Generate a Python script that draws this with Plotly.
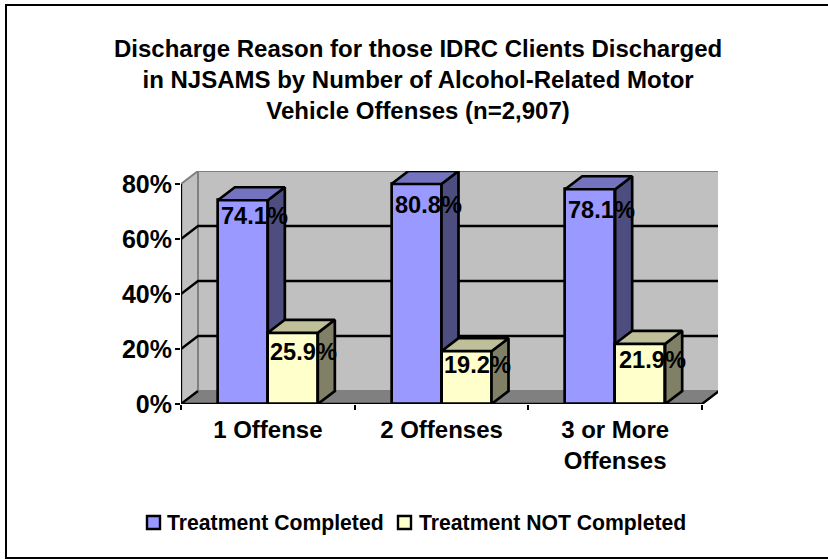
import plotly.graph_objects as go

categories = ["1 Offense", "2 Offenses", "3 or More<br>Offenses"]
completed = [74.1, 80.8, 78.1]
not_completed = [25.9, 19.2, 21.9]
series_names = ["Treatment Completed", "Treatment NOT Completed"]
y_ticks = [0, 20, 40, 60, 80]
title = ("Discharge Reason for those IDRC Clients Discharged<br>"
         "in NJSAMS by Number of Alcohol-Related Motor<br>"
         "Vehicle Offenses (n=2,907)")

W, H = 828, 559
L, R, T, B = 181, 718, 171, 404
CAT_PX = (702 - 181) / 3
PCT_PX = 220 / 80
DX = 17 / CAT_PX
DY = 13 / PCT_PX
BAR_W = 50 / CAT_PX
FONT = "Liberation Sans"
n = len(categories)
ymax = y_ticks[-1]


def px(x):
    return (x - L) / (R - L)


def py(y):
    return (B - y) / (B - T)


fig = go.Figure()


def poly(xs, ys, fill, line="black", width=2.7, z=0):
    fig.add_trace(go.Scatter(x=xs, y=ys, mode="lines", fill="toself", fillcolor=fill,
                             line=dict(color=line, width=width), hoverinfo="skip",
                             showlegend=False, zorder=z))


def seg(xs, ys, color="black", width=2.3, z=0):
    fig.add_trace(go.Scatter(x=xs, y=ys, mode="lines", line=dict(color=color, width=width),
                             hoverinfo="skip", showlegend=False, zorder=z))


# walls and floor
poly([DX, n + DX, n + DX, DX, DX], [DY, DY, ymax + DY, ymax + DY, DY], "#C0C0C0", "#808080", 2)
poly([0, DX, DX, 0, 0], [0, DY, ymax + DY, ymax, 0], "#C0C0C0", "#808080", 2)
poly([0, DX, n + DX, n, 0], [0, DY, DY, 0, 0], "#808080", "#808080", 2)
for t in y_ticks[1:-1]:
    seg([0, DX, n + DX], [t, t + DY, t + DY])
seg([0, DX], [0, DY])
seg([n, n + DX], [0, DY])
seg([0, n], [0, 0])
seg([0, 0], [0, ymax])

# bars (the value axis stops at 80%, so a taller bar is cut off there)
for s, (vals, front, side, top, off) in enumerate([
    (completed, "#9999FF", "#4D4D80", "#7373BF", -BAR_W / 2),
    (not_completed, "#FFFFCC", "#808066", "#BFBF99", BAR_W / 2),
]):
    base_z = 1 + 2 * s
    xs = [i + 0.5 + off for i in range(n)]
    shown = [min(v, ymax) for v in vals]
    fig.add_trace(go.Bar(x=xs, y=shown, width=BAR_W, name=series_names[s], showlegend=False,
                         customdata=vals, hovertemplate="%{customdata}%",
                         marker=dict(color=front, line=dict(color="black", width=2.7)),
                         zorder=base_z))
    for x, v in zip(xs, shown):
        x0, x1 = x - BAR_W / 2, x + BAR_W / 2
        poly([x1, x1 + DX, x1 + DX, x1, x1], [0, DY, v + DY, v, 0], side, z=base_z + 1)
        poly([x0, x0 + DX, x1 + DX, x1, x0], [v, v + DY, v + DY, v, v], top, z=base_z + 1)

fig.update_layout(
    width=W, height=H, autosize=False,
    margin=dict(l=L, r=W - R, t=T, b=H - B, pad=0),
    paper_bgcolor="white", plot_bgcolor="white", showlegend=False,
    font=dict(family=FONT, color="black"),
    bargap=0,
    xaxis=dict(range=[0, (R - L) / CAT_PX], tickvals=[i + 0.5 for i in range(n)],
               ticktext=[f"<b>{c.replace('<br>', '</b><br><b>')}</b>" for c in categories],
               ticks="", showgrid=False, zeroline=False, showline=False,
               tickfont=dict(size=24, family=FONT), automargin=False, ticklabelstandoff=9,
               minor=dict(tickvals=list(range(n + 1)), ticks="outside", ticklen=5, tickwidth=2,
                          tickcolor="black", showgrid=False)),
    yaxis=dict(range=[0, (B - T) / PCT_PX], tickvals=y_ticks, ticktext=[f"<b>{t}%</b>" for t in y_ticks],
               ticks="outside", ticklen=5, tickwidth=2, tickcolor="black", showgrid=False,
               zeroline=False, showline=False, automargin=False, ticklabelstandoff=-2,
               tickfont=dict(size=25, family=FONT)),
    shapes=[dict(type="rect", xref="paper", yref="paper", x0=px(6), x1=px(835),
                 y0=py(558), y1=py(5),
                 line=dict(color="black", width=2), fillcolor="rgba(0,0,0,0)", layer="below")],
)

# title
fig.add_annotation(text=f"<b>{title}</b>", xref="paper", yref="paper", showarrow=False,
                   x=px(418), y=py(79), xanchor="center", yanchor="middle", align="center",
                   font=dict(size=24, family=FONT))

# data labels
label_dx = [12, 11, 12, 11, 11, 12]
label_dy = [16, 19, 23, 14, 21, 16]
for s, vals in enumerate([completed, not_completed]):
    off = -BAR_W / 2 if s == 0 else BAR_W / 2
    for i, v in enumerate(vals):
        k = i * 2 + s
        fig.add_annotation(text=f"<b>{v:.1f}%</b>", x=i + 0.5 + off, y=v, showarrow=False,
                           xanchor="center", yanchor="middle",
                           xshift=label_dx[k], yshift=-label_dy[k], font=dict(size=23.6, family=FONT))

# legend key
for name, color, x0, tx in zip(series_names, ["#9999FF", "#FFFFCC"], [147, 398], [165, 417]):
    fig.add_shape(type="rect", xref="paper", yref="paper",
                  x0=px(x0), x1=px(x0 + 13), y0=py(529), y1=py(516),
                  line=dict(color="black", width=2.4), fillcolor=color)
    fig.add_annotation(text=f"<b>{name}</b>", xref="paper", yref="paper", showarrow=False,
                       x=px(tx), y=py(522.5), xanchor="left", yanchor="middle",
                       font=dict(size=21.2, family=FONT))

fig.write_html("out.html", config={"displayModeBar": False},
               post_script="document.body.style.margin='0';")
